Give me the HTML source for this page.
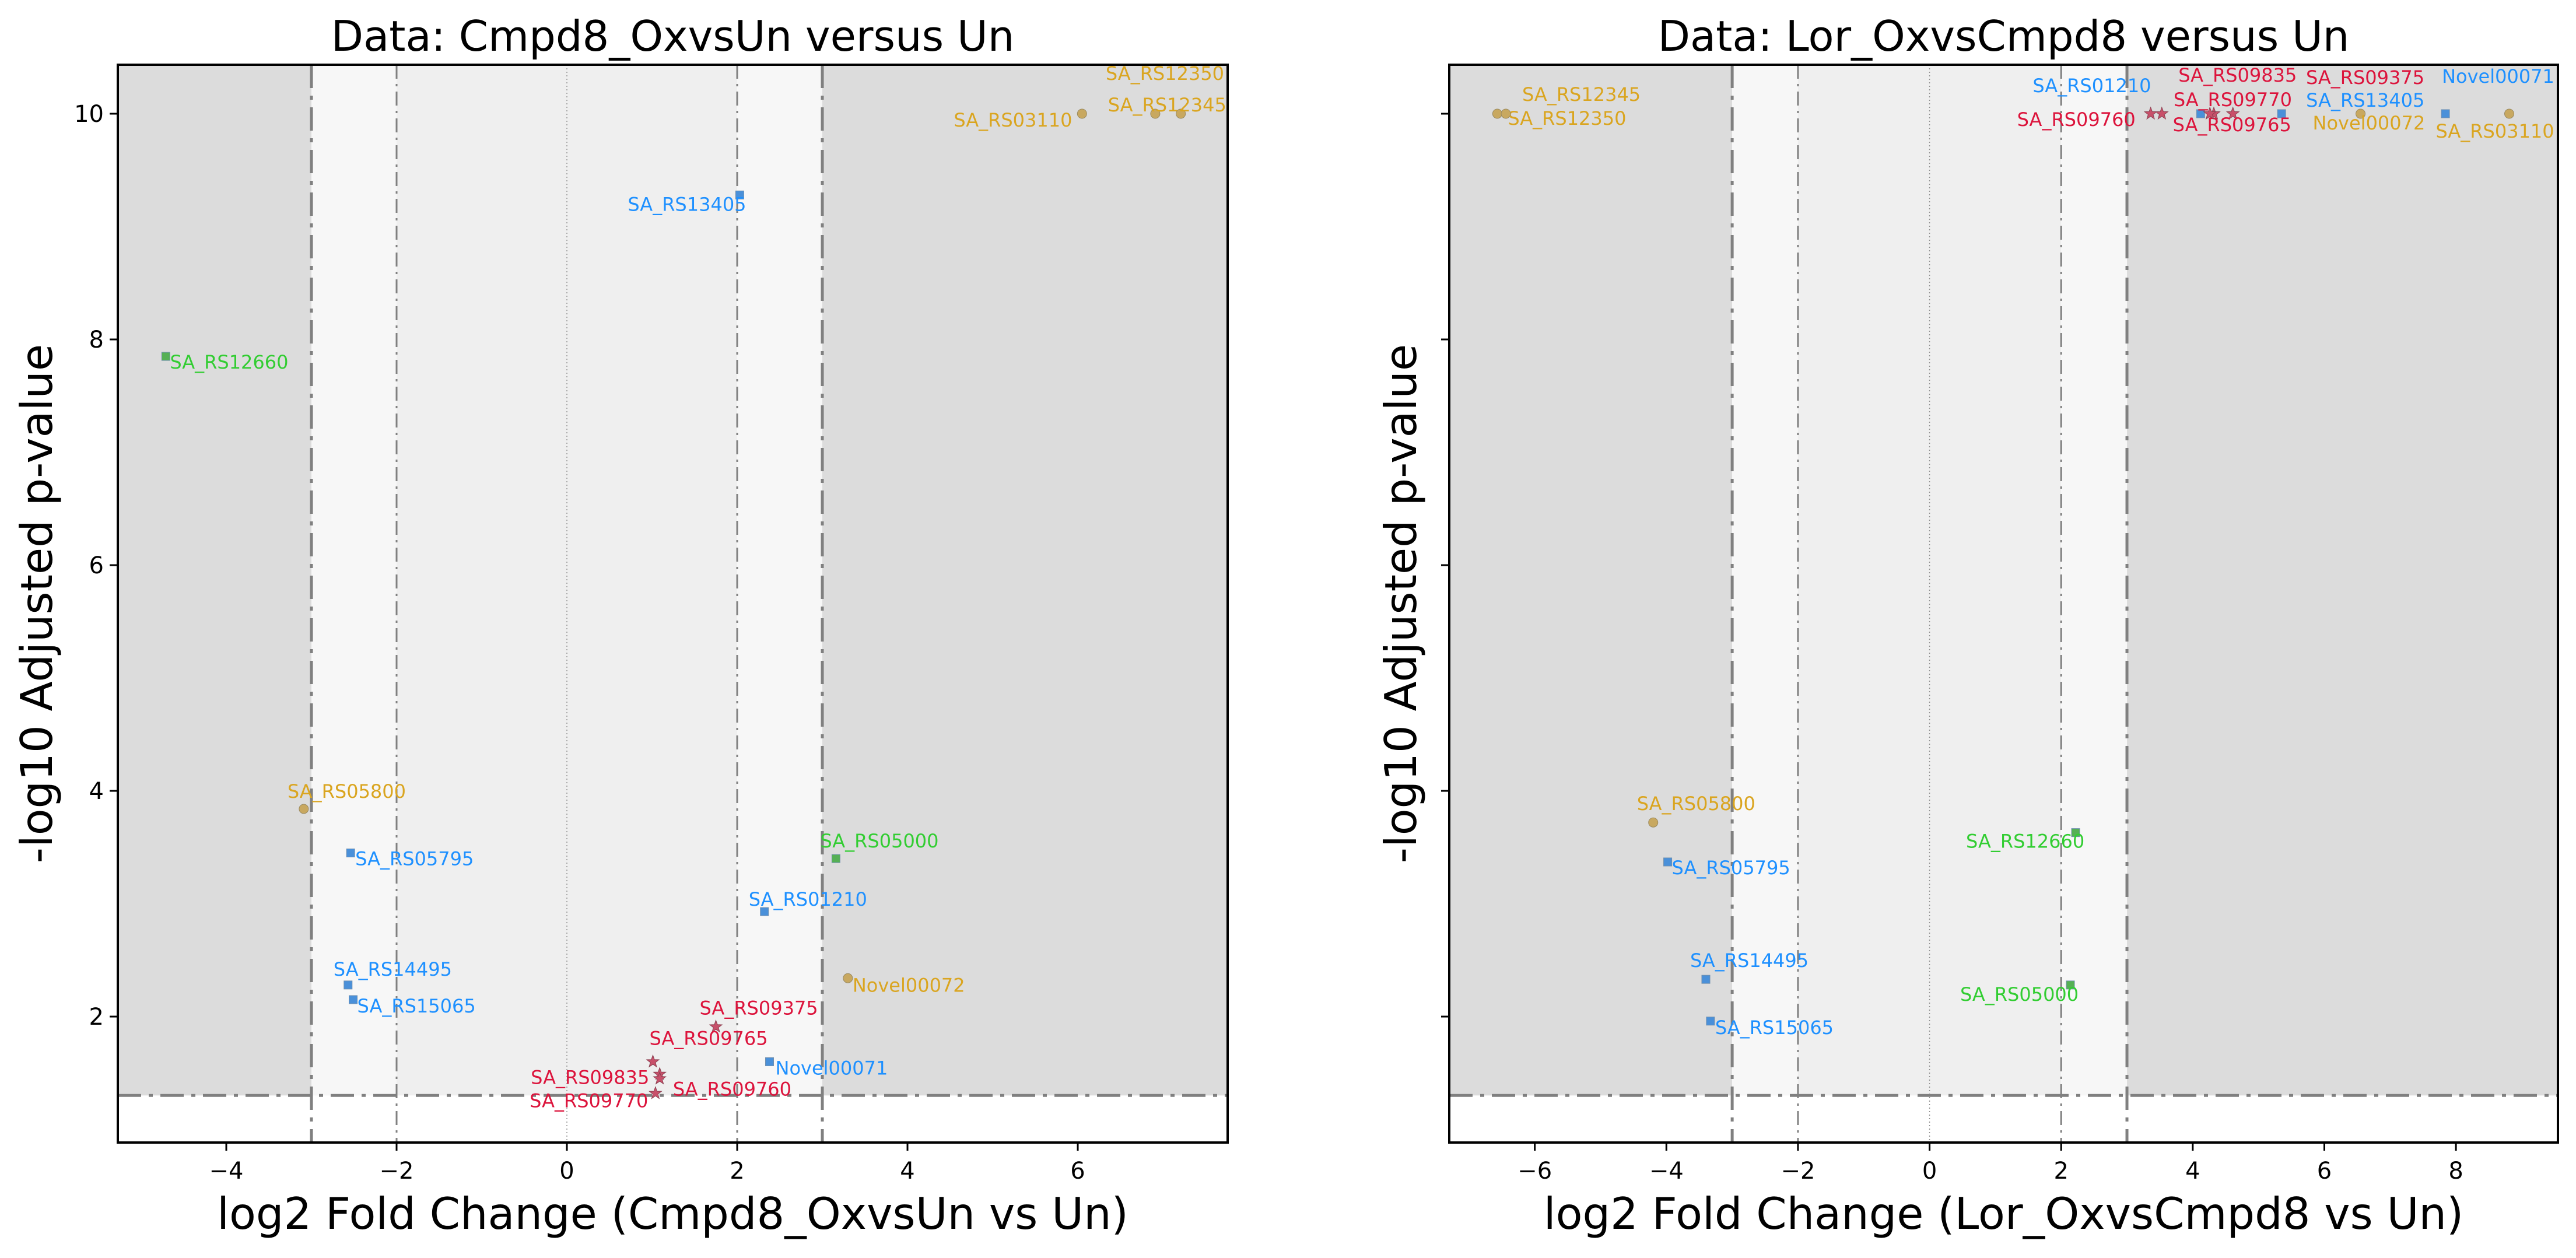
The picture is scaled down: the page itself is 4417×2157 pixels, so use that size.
<!DOCTYPE html>
<html><head><meta charset="utf-8">
<style>
html,body{margin:0;padding:0;background:#fff;}
svg text{font-family:"DejaVu Sans","Liberation Sans",sans-serif;}
</style></head>
<body>
<svg id="fig" xmlns="http://www.w3.org/2000/svg" width="4417" height="2152" viewBox="0 0 4417 2152">
<rect x="0" y="0" width="4417" height="2152" fill="#ffffff"/>
</svg>
<script>
const genes = ["SA_RS03110","SA_RS12350","SA_RS12345","SA_RS13405","SA_RS12660","SA_RS05800","SA_RS05795","SA_RS05000","SA_RS01210","SA_RS14495","SA_RS15065","Novel00072","SA_RS09375","SA_RS09765","Novel00071","SA_RS09835","SA_RS09760","SA_RS09770"];
const geneTypes = ["gold","gold","gold","blue","green","gold","blue","green","blue","blue","blue","gold","red","red","blue","red","red","red"];
const lfcLeft = [6.05,6.91,7.21,2.03,-4.71,-3.09,-2.54,3.16,2.32,-2.57,-2.51,3.30,1.75,1.01,2.38,1.09,1.04,1.09];
const padjLeft = [10,10,10,9.28,7.85,3.84,3.45,3.40,2.93,2.28,2.15,2.34,1.91,1.60,1.60,1.49,1.32,1.45];
const lfcRight = [8.81,-6.57,-6.44,5.35,2.22,-4.20,-3.98,2.14,4.12,-3.40,-3.33,6.55,4.32,4.61,7.84,4.26,3.36,3.53];
const padjRight = [10,10,10,10,3.63,3.72,3.37,2.28,10,2.33,1.96,10,10,10,10,10,10,10];
const xTicksLeft = [-4,-2,0,2,4,6];
const xTicksRight = [-6,-4,-2,0,2,4,6,8];
const yTicks = [2,4,6,8,10];
const labelDxLeft = [-220,-85,-125,-192,7,-28,8,-27,-27,-25,7,8,-28,-6,10,-221,30,-223];
const labelDyLeft = [22,-58,-4,27,21,-19,21,-19,-10,-16,22,23,-21,-29,22,17,4,49];
const labelDxRight = [-126,18,28,42,-188,-28,7,-189,-288,-27,8,-82,158,-103,-6,-54,-229,20];
const labelDyRight = [41,19,-22,-12,26,-21,21,27,-37,-21,22,27,-51,30,-53,-55,21,-13];

const NS = "http://www.w3.org/2000/svg";
const fig = document.getElementById("fig");
const markerFill = {gold:"#c8a860",blue:"#4a90d9",green:"#55b055",red:"#c8506a"};
const labelColor = {gold:"#daa520",blue:"#1e90ff",green:"#32cd32",red:"#dc143c"};
const sigY = -Math.log10(0.05);

function mk(tag, attrs, parent){
  const e = document.createElementNS(NS, tag);
  for (const k in attrs) e.setAttribute(k, attrs[k]);
  (parent||fig).appendChild(e);
  return e;
}

function panel(cfg){
  const g = mk("g", {});
  
  
  const L=cfg.left, R=cfg.right, T=111, B=1959;
  const ymin=0.884, ymax=10.434;
  const sx = v => L + (v-cfg.xmin)/(cfg.xmax-cfg.xmin)*(R-L);
  const sy = v => B - (v-ymin)/(ymax-ymin)*(B-T);
  const yS = sy(sigY);
  const bg = mk("rect",{x:L,y:T,width:R-L,height:B-T,fill:"#ffffff"},g);
  
  
  const bands = [[cfg.xmin,-3,"#dcdcdc"],[-3,-2,"#f7f7f7"],[-2,2,"#efefef"],[2,3,"#f7f7f7"],[3,cfg.xmax,"#dcdcdc"]];
  bands.forEach(b=>{
    const r = mk("rect",{x:sx(b[0]),y:T,width:sx(b[1])-sx(b[0]),height:yS-T,fill:b[2]},g);
    
    
  });
  [[-3,5,"40 13 7 13"],[3,5,"40 13 7 13"],[-2,3,"24 9 4 9"],[2,3,"24 9 4 9"]].forEach(v=>{
    const l = mk("line",{x1:sx(v[0]),x2:sx(v[0]),y1:T,y2:B,stroke:"#808080","stroke-width":v[1],"stroke-dasharray":v[2]},g);
    
    
  });
  const z = mk("line",{x1:sx(0),x2:sx(0),y1:T,y2:B,stroke:"#909090","stroke-width":1.5,"stroke-dasharray":"2 4"},g);
  
  
  const h = mk("line",{x1:L,x2:R,y1:yS,y2:yS,stroke:"#808080","stroke-width":5,"stroke-dasharray":"40 13 7 13"},g);
  
  
  cfg.xs.forEach((xv,i)=>{
    const px=sx(xv), py=sy(cfg.ys[i]), t=geneTypes[i];
    let m;
    if (t==="gold"){
      m = mk("circle",{cx:px,cy:py,r:8,fill:markerFill[t],stroke:"#9a8a60","stroke-width":1},g);
    } else if (t==="red"){
      let pts=[];
      for(let k=0;k<10;k++){const a=-Math.PI/2+k*Math.PI/5;const rr=k%2?4.5:11;pts.push((px+rr*Math.cos(a)).toFixed(1)+","+(py+rr*Math.sin(a)).toFixed(1));}
      m = mk("polygon",{points:pts.join(" "),fill:markerFill[t],stroke:"#8a4050","stroke-width":1},g);
    } else {
      m = mk("rect",{x:px-7,y:py-7,width:14,height:14,fill:markerFill[t],stroke:"#7090b0","stroke-width":1},g);
    }
    
    
    const tx = mk("text",{x:px+cfg.dx[i],y:py+cfg.dy[i],fill:labelColor[t],"font-size":32},g);
    tx.textContent = genes[i];
    
    
  });
  const fr = mk("rect",{x:L,y:T,width:R-L,height:B-T,fill:"none",stroke:"#000","stroke-width":4},g);
  
  
  cfg.xticks.forEach(v=>{
    const tk = mk("line",{x1:sx(v),x2:sx(v),y1:B,y2:B+14,stroke:"#000","stroke-width":3},g);
    
    
    const tl = mk("text",{x:sx(v),y:B+62,"font-size":40,"text-anchor":"middle",fill:"#000"},g);
    tl.textContent = v<0 ? "\u2212"+Math.abs(v) : String(v);
    
    
  });
  yTicks.forEach(v=>{
    const tk = mk("line",{x1:L-14,x2:L,y1:sy(v),y2:sy(v),stroke:"#000","stroke-width":3},g);
    
    
    if (cfg.ylabels){
      const tl = mk("text",{x:L-24,y:sy(v)+14,"font-size":40,"text-anchor":"end",fill:"#000"},g);
      tl.textContent = String(v);
      
      
    }
  });
  const ttl = mk("text",{x:(L+R)/2,y:87,"font-size":72,"text-anchor":"middle",fill:"#000"},g);
  ttl.textContent = cfg.title;
  
  
  const xl = mk("text",{x:(L+R)/2,y:2107,"font-size":75,"text-anchor":"middle",fill:"#000"},g);
  xl.textContent = cfg.xlabel;
  
  
  const yl = mk("text",{x:0,y:0,"font-size":75,"text-anchor":"middle",fill:"#000",transform:"translate("+(cfg.ylabelX+26)+","+((T+B)/2)+") rotate(-90)"},g);
  yl.textContent = "-log10 Adjusted p-value";
  
  
}

panel({name:"left-volcano-panel",left:202,right:2105,xmin:-5.274,xmax:7.76,xs:lfcLeft,ys:padjLeft,dx:labelDxLeft,dy:labelDyLeft,xticks:xTicksLeft,ylabels:true,title:"Data: Cmpd8_OxvsUn versus Un",xlabel:"log2 Fold Change (Cmpd8_OxvsUn vs Un)",ylabelX:63});
panel({name:"right-volcano-panel",left:2485,right:4386,xmin:-7.30,xmax:9.55,xs:lfcRight,ys:padjRight,dx:labelDxRight,dy:labelDyRight,xticks:xTicksRight,ylabels:false,title:"Data: Lor_OxvsCmpd8 versus Un",xlabel:"log2 Fold Change (Lor_OxvsCmpd8 vs Un)",ylabelX:2402});
</script>
</body></html>
